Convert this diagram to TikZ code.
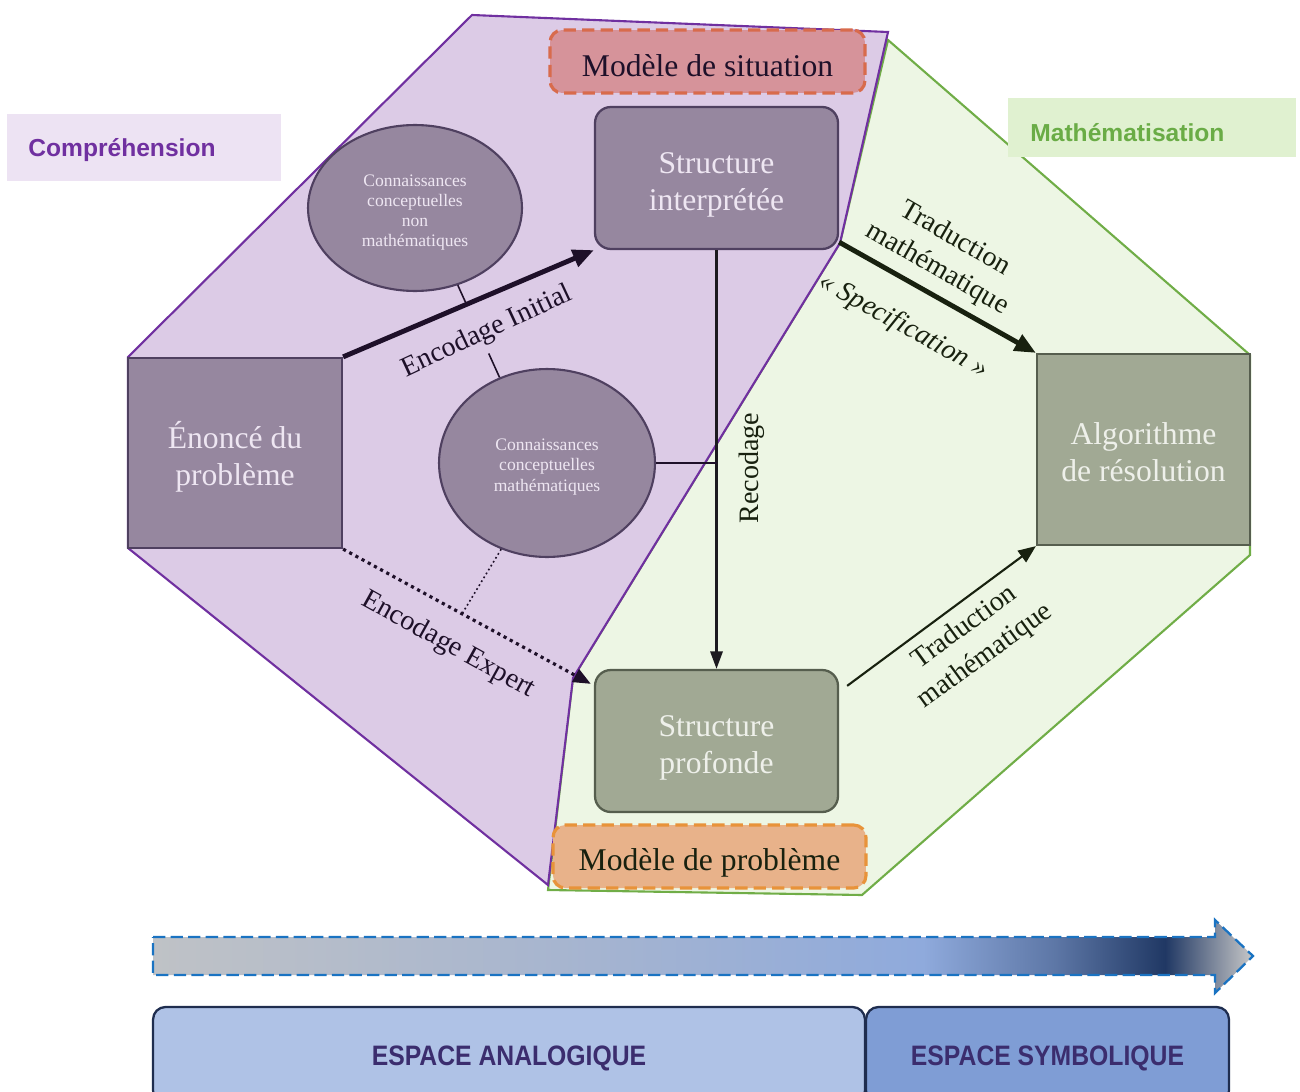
\documentclass[tikz,border=0pt]{standalone}
\usepackage{fontspec}
\setmainfont{Liberation Serif}
\newfontfamily\labelsans{Liberation Sans}
\usepackage{tikz}
\usetikzlibrary{arrows.meta,positioning,calc,shapes.geometric}

\definecolor{compFill}{HTML}{DCCBE6}
\definecolor{compLine}{HTML}{7030A0}
\definecolor{mathFill}{HTML}{EDF6E4}
\definecolor{mathLine}{HTML}{70AD47}
\definecolor{boxViolet}{HTML}{96879F}
\definecolor{edgeViolet}{HTML}{4F4060}
\definecolor{boxSauge}{HTML}{A1A994}
\definecolor{edgeSauge}{HTML}{565E4E}
\definecolor{lightText}{HTML}{EEE6F2}
\definecolor{lightSauge}{HTML}{EEF0EA}
\definecolor{situFill}{HTML}{D6939A}
\definecolor{situLine}{HTML}{D86B4C}
\definecolor{probFill}{HTML}{E8B28A}
\definecolor{probLine}{HTML}{E8933A}
\definecolor{compBg}{HTML}{EDE3F3}
\definecolor{mathBg}{HTML}{E0F1D0}
\definecolor{mathText}{HTML}{6AAC46}
\definecolor{inkViolet}{HTML}{1E1029}
\definecolor{inkSauge}{HTML}{18210F}
\definecolor{inkRecod}{HTML}{1C1A1F}
\definecolor{analFill}{HTML}{AFC2E6}
\definecolor{symbFill}{HTML}{7F9DD5}
\definecolor{espEdge}{HTML}{1F2D4F}
\definecolor{espText}{HTML}{3B2D6E}
\definecolor{flecheLine}{HTML}{1A73C2}
\definecolor{gradGray}{HTML}{BFC2C6}
\definecolor{gradMid}{HTML}{A5B4D0}
\definecolor{gradBlue}{HTML}{8FAADC}
\definecolor{gradNavy}{HTML}{203864}
\definecolor{gradTip}{HTML}{C8C8C8}

\pgfdeclarehorizontalshading{espaceGrad}{100bp}{color(0bp)=(gradGray); color(25bp)=(gradGray); color(45bp)=(gradMid); color(60bp)=(gradBlue); color(66bp)=(gradBlue!55!gradNavy); color(71bp)=(gradNavy); color(75bp)=(gradTip); color(100bp)=(gradTip)}

\begin{document}
\begin{tikzpicture}[x=0.02cm, y=-0.02cm,
  boite/.style={line width=1.3pt, inner sep=0pt},
  violet/.style={boite, draw=edgeViolet, fill=boxViolet},
  sauge/.style={boite, draw=edgeSauge, fill=boxSauge},
  txt/.style={align=center, inner sep=0pt, font=\fontsize{18}{21}\selectfont},
  connais/.style={ellipse, draw=edgeViolet, line width=1.2pt, fill=boxViolet, inner sep=0pt},
  petit/.style={txt, text=lightText, font=\fontsize{10}{11.4}\selectfont},
  modele/.style={line width=1.8pt, dash pattern=on 7pt off 3.5pt, rounded corners=7pt, minimum width=6.3cm, minimum height=1.26cm},
  phase/.style={inner sep=0pt, anchor=west, font=\labelsans\bfseries\fontsize{14}{16}\selectfont},
  lien/.style={txt, font=\fontsize{16}{20}\selectfont},
  espace/.style={draw=espEdge, line width=1.3pt, rounded corners=7pt, minimum height=1.92cm},
  espaceTxt/.style={inner sep=0pt, text=espText, font=\labelsans\bfseries\fontsize{16}{18}\selectfont},
  grosse/.style={line width=2.8pt, -{Triangle[length=12pt,width=10pt]}}
]
\useasboundingbox (0,0) rectangle (1300,1091);
\clip (0,0) rectangle (1300,1091);

% the two regions
\draw[mathLine, line width=1.2pt, fill=mathFill]
  (888,40) -- (1250,355) -- (1250,555) -- (862,895) -- (548,890) -- (573,678) -- (840,243) -- cycle;
\draw[compLine, line width=1.2pt, fill=compFill]
  (128,357) -- (472,15) -- (888,32) -- (840,243) -- (573,678) -- (548,885) -- (128,548) -- cycle;

% phase labels
\node[fill=compBg, minimum width=5.48cm, minimum height=1.34cm, anchor=west] (compr) at (7,147.5) {};
\node[phase, text=compLine] (comprTxt) at ([yshift=-1.7pt]28,147.5) {Compréhension};
\node[fill=mathBg, minimum width=5.76cm, minimum height=1.18cm, anchor=west] (mathm) at (1008,127.5) {};
\node[phase, text=mathText] (mathmTxt) at ([yshift=-2.8pt]1030,127.5) {Mathématisation};

% models
\node[modele, draw=situLine, fill=situFill] (situ) at (707.5,61.5) {};
\node[txt, text=inkViolet] (situTxt) at ([yshift=-2.3pt]situ.center) {Modèle de situation};
\node[modele, draw=probLine, fill=probFill, minimum width=6.26cm] (probl) at (709.5,856.5) {};
\node[txt, text=inkSauge] (problTxt) at ([yshift=-3.4pt]probl.center) {Modèle de problème};

% knowledge
\node[connais, minimum width=4.28cm, minimum height=3.32cm] (ell1) at (415,208) {};
\node[petit] (ell1Txt) at ([yshift=-2.8pt]ell1.center) {Connaissances\\conceptuelles\\non\\mathématiques};
\node[connais, minimum width=4.32cm, minimum height=3.76cm] (ell2) at (547,463) {};
\node[petit] (ell2Txt) at ([yshift=-2.3pt]ell2.center) {Connaissances\\conceptuelles\\mathématiques};

% structures
\node[violet, minimum width=4.28cm, minimum height=3.8cm] (enonce) at (235,453) {};
\node[txt, text=lightText] (enonceTxt) at ([yshift=-2.3pt]enonce.center) {Énoncé du\\problème};
\node[violet, rounded corners=9pt, minimum width=4.86cm, minimum height=2.84cm] (interp) at (716.5,178) {};
\node[txt, text=lightText] (interpTxt) at ([yshift=-4pt]interp.center) {Structure\\interprétée};
\node[sauge, minimum width=4.26cm, minimum height=3.82cm] (algo) at (1143.5,449.5) {};
\node[txt, text=lightSauge] (algoTxt) at ([yshift=-1.7pt]algo.center) {Algorithme\\de résolution};
\node[sauge, rounded corners=9pt, minimum width=4.86cm, minimum height=2.84cm] (prof) at (716.5,741) {};
\node[txt, text=lightSauge] (profTxt) at ([yshift=-4pt]prof.center) {Structure\\profonde};

% connectors
\draw[inkViolet, line width=0.9pt] (ell1.-61) -- ($(ell1.-61)!0.2!(ell2.119)$);
\draw[inkViolet, line width=0.9pt] ($(ell1.-61)!0.74!(ell2.119)$) -- (ell2.119);
\draw[inkViolet, grosse] (enonce.north east) -- (interp.south west);

\draw[inkRecod, line width=1.4pt, -{Triangle[length=10pt,width=7pt]}] (interp.south) -- (prof.north);
\draw[inkViolet, line width=1.4pt] (ell2.east) -- (ell2.east -| interp.south);

\coordinate (expEnd) at ($(prof.north west)+(-3,15)$);
\draw[inkViolet, line width=1.8pt, dash pattern=on 1.8pt off 2.2pt, -{Triangle[length=10pt,width=8pt]}] (enonce.south east) -- (expEnd);
\coordinate (expDot) at ($(enonce.south east)!0.48!(expEnd)$);
\draw[inkViolet, line width=0.9pt, dash pattern=on 1pt off 1.6pt] (ell2.-118) -- (expDot);

\draw[inkSauge, grosse] ($(interp.south east)+(0,-8)$) -- (algo.north west);
\draw[inkSauge, line width=1.2pt, -{Triangle[length=10pt,width=8pt]}] ($(prof.north east)+(8,17)$) -- (algo.south west);

% connector labels
\node[lien, rotate=25, text=inkViolet] (lblInit) at (487,332) {Encodage Initial};
\node[lien, rotate=-29, text=inkViolet] (lblExpert) at (448,645) {Encodage Expert};
\node[lien, rotate=90, text=inkSauge] (lblRecod) at (752,468) {Recodage};
\node[lien, rotate=-30, text=inkSauge] (lblTradA) at (946,254) {Traduction\\mathématique};
\node[lien, rotate=-29, text=inkSauge, font=\itshape\fontsize{16}{20}\selectfont] (lblSpec) at (903,326) {« Specification »};
\node[lien, rotate=36, text=inkSauge] (lblTradB) at (975,642) {Traduction\\mathématique};

% bottom arrow
\shade[shading=espaceGrad] (153,937) -- (1215,937) -- (1215,920) -- (1253,956) -- (1215,993) -- (1215,975) -- (153,975) -- cycle;
\draw[flecheLine, line width=1.3pt, dash pattern=on 7pt off 3pt] (153,937) -- (1215,937) -- (1215,920) -- (1253,956) -- (1215,993) -- (1215,975) -- (153,975) -- cycle;

% spaces
\node[espace, fill=analFill, minimum width=14.24cm] (analog) at (509,1055) {};
\node[espaceTxt] (analogTxt) at ([yshift=-1.7pt]analog.center) {\scalebox{0.88}[1]{ESPACE ANALOGIQUE}};
\node[espace, fill=symbFill, minimum width=7.26cm] (symb) at (1047.5,1055) {};
\node[espaceTxt] (symbTxt) at ([yshift=-1.7pt]symb.center) {\scalebox{0.88}[1]{ESPACE SYMBOLIQUE}};
\end{tikzpicture}
\end{document}
